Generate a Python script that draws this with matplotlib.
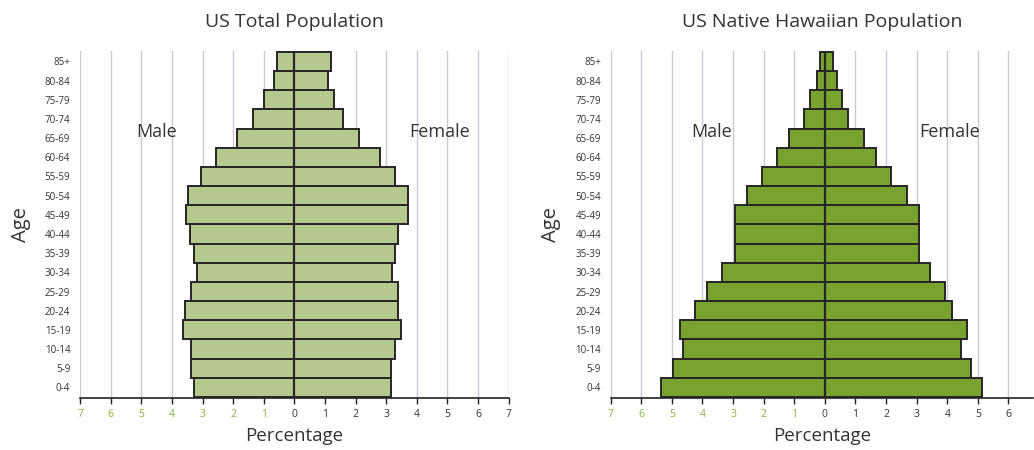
import matplotlib
matplotlib.use("Agg")
import matplotlib.pyplot as plt
import numpy as np

plt.rcParams['font.family'] = ['Open Sans', 'DejaVu Sans']

ages = ["0-4", "5-9", "10-14", "15-19", "20-24", "25-29", "30-34", "35-39", "40-44",
        "45-49", "50-54", "55-59", "60-64", "65-69", "70-74", "75-79", "80-84", "85+"]

us_male = [3.27, 3.37, 3.37, 3.65, 3.56, 3.37, 3.17, 3.28, 3.40,
           3.55, 3.47, 3.06, 2.55, 1.87, 1.36, 0.99, 0.68, 0.58]
us_female = [3.17, 3.17, 3.28, 3.48, 3.37, 3.38, 3.18, 3.28, 3.40,
             3.71, 3.71, 3.28, 2.78, 2.10, 1.59, 1.31, 1.11, 1.21]

nh_male = [5.35, 4.96, 4.64, 4.73, 4.24, 3.86, 3.36, 2.94, 2.94,
           2.94, 2.56, 2.07, 1.56, 1.18, 0.69, 0.48, 0.26, 0.16]
nh_female = [5.12, 4.76, 4.46, 4.66, 4.16, 3.94, 3.44, 3.06, 3.06,
             3.06, 2.68, 2.16, 1.67, 1.29, 0.77, 0.57, 0.38, 0.27]

titles = ["US Total Population", "US Native Hawaiian Population"]
colors = ["#b5c98e", "#79a22f"]

fig = plt.figure(figsize=(10.34, 4.5), dpi=100)
ax1 = fig.add_axes([0.0774, 0.1156, 0.4146, 0.7714])
ax2 = fig.add_axes([0.5906, 0.1156, 0.4084, 0.7714])

green_tick = "#8db040"
dark = "#333333"

def draw(ax, male, female, title, color, xmax, maxlabel, male_x, female_x):
    y = np.arange(len(ages))
    ax.barh(y, -np.array(male), height=1.0, color=color, edgecolor="#262626", linewidth=1.4, zorder=3)
    ax.barh(y, female, height=1.0, color=color, edgecolor="#262626", linewidth=1.4, zorder=3)
    ax.axvline(0, color="#262626", linewidth=1.6, zorder=4)
    ax.set_xlim(-7, xmax)
    ax.set_ylim(-0.55, len(ages) - 0.45)
    for gx in range(-7, int(np.floor(xmax)) + 1):
        if gx != 0:
            ax.axvline(gx, color="#c9cad2", linewidth=1.0, zorder=1)
    ticks = list(range(-7, maxlabel + 1))
    ax.set_xticks(ticks)
    ax.set_xticklabels([str(abs(t)) for t in ticks], fontsize=7.5)
    for lab, t in zip(ax.get_xticklabels(), ticks):
        lab.set_color(green_tick if t < 0 else dark)
    ax.set_yticks(y)
    ax.set_yticklabels(ages, fontsize=7, color=dark)
    ax.tick_params(axis='y', length=0, pad=7)
    ax.tick_params(axis='x', direction='out', length=4, width=1, color="#222222", pad=4)
    for s in ["top", "right", "left"]:
        ax.spines[s].set_visible(False)
    ax.spines["bottom"].set_color("#222222")
    ax.spines["bottom"].set_linewidth(1.2)
    ax.set_title(title, fontsize=14, color=dark, pad=17)
    ax.set_xlabel("Percentage", fontsize=13.5, color=dark, labelpad=5)
    ax.set_ylabel("Age", fontsize=14.5, color=dark, labelpad=10)
    ax.text(male_x, 13.3, "Male", fontsize=13, color=dark, ha="center", va="center", zorder=5)
    ax.text(female_x, 13.3, "Female", fontsize=13, color=dark, ha="center", va="center", zorder=5)

draw(ax1, us_male, us_female, titles[0], colors[0], 7, 7, -4.5, 4.74)
draw(ax2, nh_male, nh_female, titles[1], colors[1], 6.8, 6, -3.7, 4.08)

fig.savefig("out.png", dpi=100)
